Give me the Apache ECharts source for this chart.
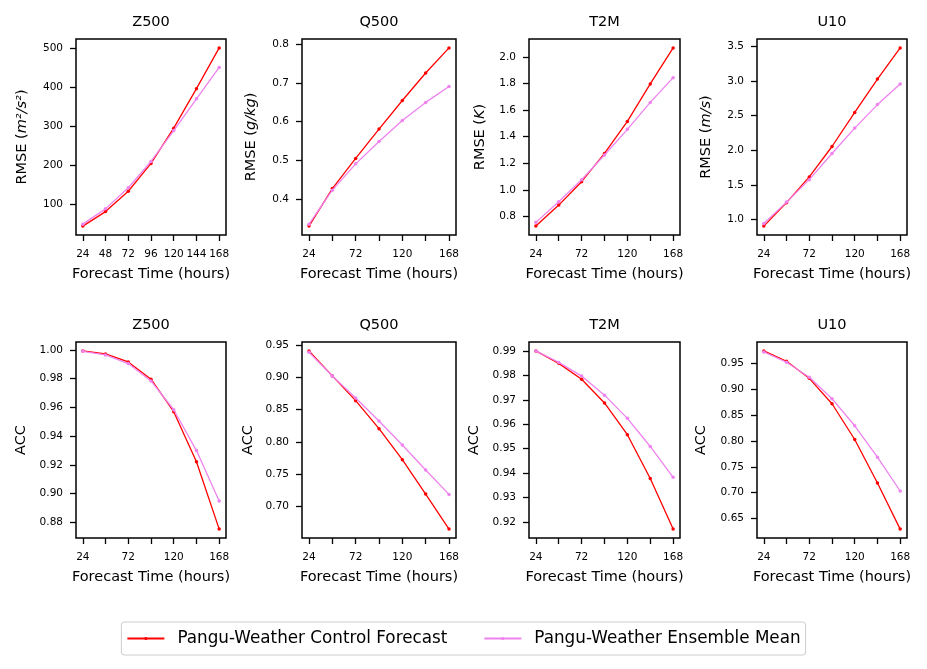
<!DOCTYPE html>
<html>
<head>
<meta charset="utf-8">
<title>Pangu-Weather RMSE / ACC</title>
<script src="https://cdn.jsdelivr.net/npm/echarts@6/dist/echarts.min.js"></script>
<style>
  html, body { margin: 0; padding: 0; background: #fff; }
  #main { width: 927px; height: 669px; }
</style>
</head>
<body>
<div id="main"></div>
<script>
// 预报时效 (hours)
var hours = [24, 48, 72, 96, 120, 144, 168];
var xLabelsAll = [24, 48, 72, 96, 120, 144, 168];
var xLabelsSome = [24, 72, 120, 168];

// RMSE - control forecast / ensemble mean
var z500RmseCtrl = [45, 82, 134, 205, 295, 396, 500];
var z500RmseEns = [50, 89, 143, 210, 289, 370, 450];
var q500RmseCtrl = [0.330, 0.427, 0.505, 0.581, 0.655, 0.726, 0.791];
var q500RmseEns = [0.335, 0.423, 0.491, 0.549, 0.603, 0.650, 0.691];
var t2mRmseCtrl = [0.727, 0.885, 1.061, 1.274, 1.515, 1.797, 2.068];
var t2mRmseEns = [0.755, 0.910, 1.076, 1.262, 1.455, 1.658, 1.844];
var u10RmseCtrl = [0.903, 1.242, 1.614, 2.054, 2.547, 3.030, 3.480];
var u10RmseEns = [0.940, 1.250, 1.575, 1.953, 2.320, 2.660, 2.958];

// ACC - control forecast / ensemble mean
var z500AccCtrl = [0.9993, 0.9972, 0.9916, 0.9796, 0.9570, 0.9222, 0.8754];
var z500AccEns = [0.9990, 0.9965, 0.9905, 0.9784, 0.9584, 0.9300, 0.8949];
var q500AccCtrl = [0.9412, 0.9024, 0.8640, 0.8206, 0.7725, 0.7192, 0.6648];
var q500AccEns = [0.9390, 0.9024, 0.8682, 0.8325, 0.7952, 0.7564, 0.7186];
var t2mAccCtrl = [0.9900, 0.9849, 0.9784, 0.9687, 0.9557, 0.9378, 0.9171];
var t2mAccEns = [0.9900, 0.9853, 0.9797, 0.9719, 0.9624, 0.9509, 0.9383];
var u10AccCtrl = [0.9746, 0.9545, 0.9215, 0.8722, 0.8029, 0.7187, 0.6293];
var u10AccEns = [0.9727, 0.9526, 0.9234, 0.8820, 0.8295, 0.7686, 0.7031];

// y 轴刻度
var z500RmseTicks = [100, 200, 300, 400, 500];
var q500RmseTicks = [0.4, 0.5, 0.6, 0.7, 0.8];
var t2mRmseTicks = [0.8, 1.0, 1.2, 1.4, 1.6, 1.8, 2.0];
var u10RmseTicks = [1.0, 1.5, 2.0, 2.5, 3.0, 3.5];
var z500AccTicks = [0.88, 0.90, 0.92, 0.94, 0.96, 0.98, 1.00];
var q500AccTicks = [0.70, 0.75, 0.80, 0.85, 0.90, 0.95];
var t2mAccTicks = [0.92, 0.93, 0.94, 0.95, 0.96, 0.97, 0.98, 0.99];
var u10AccTicks = [0.65, 0.70, 0.75, 0.80, 0.85, 0.90, 0.95];

var ctrlName = 'Pangu-Weather Control Forecast';
var ensName = 'Pangu-Weather Ensemble Mean';

var panels = [
    {title: 'Z500', yName: 'RMSE ({i|m²/s²})', ctrl: z500RmseCtrl, ens: z500RmseEns, ticks: z500RmseTicks, dec: 0, xl: xLabelsAll},
    {title: 'Q500', yName: 'RMSE ({i|g/kg})', ctrl: q500RmseCtrl, ens: q500RmseEns, ticks: q500RmseTicks, dec: 1, xl: xLabelsSome},
    {title: 'T2M', yName: 'RMSE ({i|K})', ctrl: t2mRmseCtrl, ens: t2mRmseEns, ticks: t2mRmseTicks, dec: 1, xl: xLabelsSome},
    {title: 'U10', yName: 'RMSE ({i|m/s})', ctrl: u10RmseCtrl, ens: u10RmseEns, ticks: u10RmseTicks, dec: 1, xl: xLabelsSome},
    {title: 'Z500', yName: 'ACC', ctrl: z500AccCtrl, ens: z500AccEns, ticks: z500AccTicks, dec: 2, xl: xLabelsSome},
    {title: 'Q500', yName: 'ACC', ctrl: q500AccCtrl, ens: q500AccEns, ticks: q500AccTicks, dec: 2, xl: xLabelsSome},
    {title: 'T2M', yName: 'ACC', ctrl: t2mAccCtrl, ens: t2mAccEns, ticks: t2mAccTicks, dec: 2, xl: xLabelsSome},
    {title: 'U10', yName: 'ACC', ctrl: u10AccCtrl, ens: u10AccEns, ticks: u10AccTicks, dec: 2, xl: xLabelsSome}
];

// 布局
var colLeft = [76, 302, 529, 757];
var colWidth = [150, 154, 151, 150];
var rowTop = [39, 342];
var boxHeight = 196;
var yNameGap = [46, 43, 41, 43, 47, 46, 47, 48];

var font = 'DejaVu Sans';

function makePairs(arr) {
    return hours.map(function (h, k) { return [h, arr[k]]; });
}

function fillData() {
    var myChart = echarts.init(document.getElementById('main'), null, {renderer: 'canvas'});

    var grids = [], xAxes = [], yAxes = [], titles = [], series = [];

    panels.forEach(function (p, i) {
        var col = i % 4, row = Math.floor(i / 4);
        grids.push({
            left: colLeft[col], top: rowTop[row], width: colWidth[col], height: boxHeight,
            show: true, borderColor: '#000', borderWidth: 1.5, backgroundColor: 'transparent'
        });

        // 跟 matplotlib 一样留 5% 边距
        var all = p.ctrl.concat(p.ens);
        var lo = Math.min.apply(null, all), hi = Math.max.apply(null, all);
        var pad = (hi - lo) * 0.05;

        xAxes.push({
            type: 'value', gridIndex: i, min: 16.8, max: 175.2,
            axisLine: {show: false},
            splitLine: {show: false},
            axisTick: {show: true, customValues: hours, length: 6, lineStyle: {color: '#000', width: 1.3}},
            axisLabel: {
                customValues: p.xl, margin: 14, fontSize: 10.5, color: '#000', fontFamily: font
            },
            name: 'Forecast Time (hours)', nameLocation: 'middle', nameGap: 32,
            nameTextStyle: {fontSize: 14.5, color: '#000', fontFamily: font}
        });

        yAxes.push({
            type: 'value', gridIndex: i, min: lo - pad, max: hi + pad, scale: true,
            axisLine: {show: false},
            splitLine: {show: false},
            axisTick: {show: true, customValues: p.ticks, length: 6, lineStyle: {color: '#000', width: 1.3}},
            axisLabel: {
                customValues: p.ticks, margin: 13, fontSize: 10.5, color: '#000', fontFamily: font,
                formatter: (function (d) { return function (v) { return Number(v).toFixed(d); }; })(p.dec)
            },
            name: p.yName, nameLocation: 'middle', nameGap: yNameGap[i],
            nameTextStyle: {
                fontSize: 14.5, color: '#000', fontFamily: font,
                rich: {i: {fontSize: 14.5, fontStyle: 'italic', color: '#000', fontFamily: font}}
            }
        });

        titles.push({
            text: p.title, left: colLeft[col] + colWidth[col] / 2, textAlign: 'center',
            top: rowTop[row] - 24, padding: 0,
            textStyle: {fontSize: 14.5, fontWeight: 'normal', color: '#000', fontFamily: font}
        });

        series.push({
            name: ctrlName, type: 'line', xAxisIndex: i, yAxisIndex: i,
            data: makePairs(p.ctrl), symbol: 'circle', symbolSize: 3.5, showSymbol: true,
            color: '#ff0000', lineStyle: {width: 1.3, color: '#ff0000'}, itemStyle: {color: '#ff0000'}, z: 2
        });
        series.push({
            name: ensName, type: 'line', xAxisIndex: i, yAxisIndex: i,
            data: makePairs(p.ens), symbol: 'circle', symbolSize: 3.5, showSymbol: true,
            color: '#ee82ee', lineStyle: {width: 1.3, color: '#ee82ee'}, itemStyle: {color: '#ee82ee'}, z: 3
        });
    });

    var option = {
        animation: false,
        backgroundColor: '#fff',
        textStyle: {fontFamily: font},
        title: titles,
        legend: {
            data: [ctrlName, ensName],
            left: 'center', top: 622,
            itemWidth: 37, itemHeight: 4, itemGap: 36,
            padding: [8, 5],
            borderColor: '#cccccc', borderWidth: 1, borderRadius: 3,
            backgroundColor: '#fff',
            textStyle: {fontSize: 16.8, color: '#000', fontFamily: font, padding: [0, 0, 0, 8]}
        },
        grid: grids,
        xAxis: xAxes,
        yAxis: yAxes,
        series: series
    };

    myChart.setOption(option);
}

window.addEventListener("load", function () { fillData(); }, false);
</script>
</body>
</html>
